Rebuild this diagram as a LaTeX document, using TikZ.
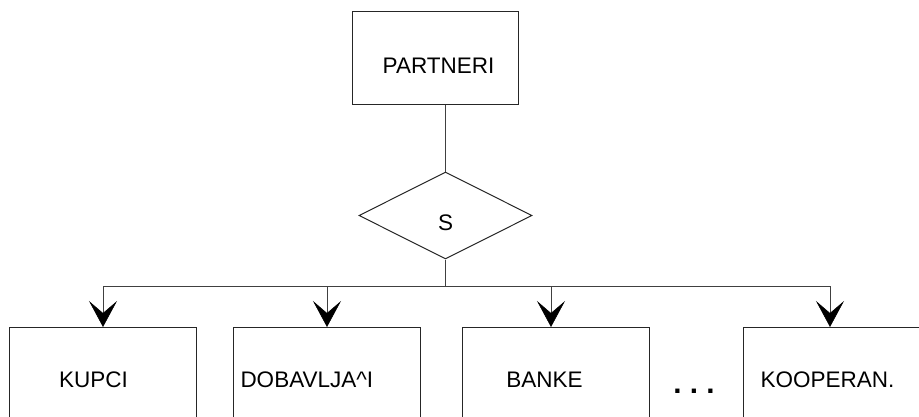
\documentclass[tikz,border=0pt]{standalone}
\usepackage{fontspec}
\setmainfont{Liberation Sans}
\usetikzlibrary{arrows.meta,shapes.geometric}

\begin{document}
\begin{tikzpicture}[x=1pt,y=-1pt,
    line width=1pt,
    entity/.style={draw=black!85, rectangle, minimum width=187pt, minimum height=120pt, inner sep=0pt, anchor=north},
    relation/.style={draw=black!85, diamond, minimum width=173pt, minimum height=87pt, inner sep=0pt},
    caption/.style={font=\fontsize{22.5}{24}\selectfont, inner sep=0pt},
    link/.style={draw=black!75},
    feed/.style={link, -{Stealth[length=26pt, width=28pt, inset=12pt, color=black, line width=0.6pt]}}]

  % page frame and clipping of the lower boxes
  \useasboundingbox (0,0) rectangle (919,416);
  \clip (0,0) rectangle (919,416);

  % parent entity and relationship
  \node[draw=black!85, rectangle, minimum width=166pt, minimum height=93pt, inner sep=0pt] (partneri) at (435,57.5) {};
  \node[caption, anchor=base] (partneriT) at (438.5,73.3) {PARTNERI};
  \node[relation] (rel) at (445.5,215.5) {};
  \node[caption, anchor=base] (relT) at (445.5,230) {S};

  % child entities
  \node[entity] (kupci)    at (102.5,327) {};
  \node[entity] (dobav)    at (326.5,327) {};
  \node[entity] (banke)    at (556,327) {};
  \node[entity] (koop)     at (836.5,327) {};

  \node[caption, anchor=base] (kupciT) at (93.5,387.5) {KUPCI};
  \node[caption, anchor=base west] (dobavT) at (240,387.5) {DOBAVLJA\^{}I};
  \node[caption, anchor=base] (bankeT) at (544.5,387.5) {BANKE};
  \node[caption, anchor=base west] (koopT) at (760,387.5) {KOOPERAN.};
  \node[inner sep=0pt, anchor=base, font=\fontsize{29.7}{30}\selectfont\bfseries] (dots) at (694,393) {.\ .\ .};

  % connectors
  \coordinate (bus) at (445.5,286);
  \draw[link] (rel.north |- partneri.south) -- (rel.north);
  \draw[link] (rel.south) -- (bus);
  \draw[feed] (bus) -| ([xshift=0.5pt]kupci.north);
  \draw[feed] (bus) -| ([xshift=0.5pt]dobav.north);
  \draw[feed] (bus) -| ([xshift=-5pt]banke.north);
  \draw[feed] (bus) -| ([xshift=-6.5pt]koop.north);
\end{tikzpicture}
\end{document}
